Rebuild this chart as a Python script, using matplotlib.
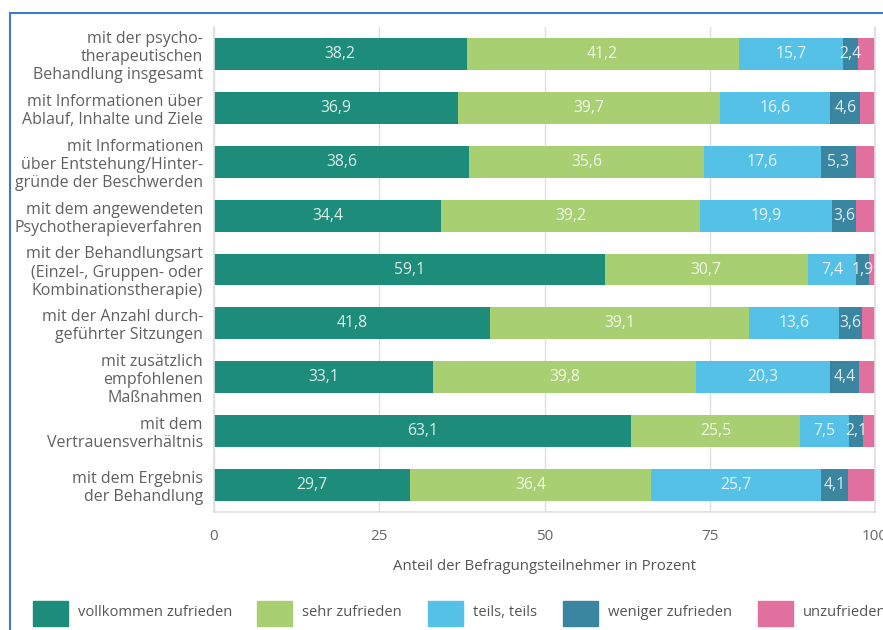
import matplotlib
matplotlib.use("Agg")
import matplotlib.pyplot as plt
from matplotlib.patches import Rectangle
import numpy as np

plt.rcParams['font.family'] = ['Open Sans', 'DejaVu Sans']

categories = [
    "mit der psycho-\ntherapeutischen\nBehandlung insgesamt",
    "mit Informationen über\nAblauf, Inhalte und Ziele",
    "mit Informationen\nüber Entstehung/Hinter-\ngründe der Beschwerden",
    "mit dem angewendeten\nPsychotherapieverfahren",
    "mit der Behandlungsart\n(Einzel-, Gruppen- oder\nKombinationstherapie)",
    "mit der Anzahl durch-\ngeführter Sitzungen",
    "mit zusätzlich\nempfohlenen\nMaßnahmen",
    "mit dem\nVertrauensverhältnis",
    "mit dem Ergebnis\nder Behandlung",
]
series_names = ["vollkommen zufrieden", "sehr zufrieden", "teils, teils",
                "weniger zufrieden", "unzufrieden"]
vollkommen = [38.2, 36.9, 38.6, 34.4, 59.1, 41.8, 33.1, 63.1, 29.7]
sehr = [41.2, 39.7, 35.6, 39.2, 30.7, 39.1, 39.8, 25.5, 36.4]
teils = [15.7, 16.6, 17.6, 19.9, 7.4, 13.6, 20.3, 7.5, 25.7]
weniger = [2.4, 4.6, 5.3, 3.6, 1.9, 3.6, 4.4, 2.1, 4.1]
unzufrieden = [2.5, 2.2, 2.9, 2.9, 0.9, 1.9, 2.4, 1.8, 4.1]
show_label = [True, True, True, True, False]
xticks = [0, 25, 50, 75, 100]

colors = ["#1e8c7b", "#a8d072", "#55c1e7", "#3a86a1", "#e2709f"]

W, H = 883, 630
fig = plt.figure(figsize=(W / 100, H / 100), dpi=100)
fig.patch.set_facecolor("white")

ax = fig.add_axes([214 / W, 1 - 512 / H, (875 - 214) / W, (512 - 27) / H])

data = [vollkommen, sehr, teils, weniger, unzufrieden]
y = np.arange(len(categories))
left = np.zeros(len(categories))
for vals, col, name, lab in zip(data, colors, series_names, show_label):
    vals = np.array(vals)
    bars = ax.barh(y, vals, left=left, height=0.59, color=col, label=name, zorder=2)
    if lab:
        for b, v in zip(bars, vals):
            cx = b.get_x() + b.get_width() / 2
            ax.text(cx, b.get_y() + b.get_height() / 2, f"{v:.1f}".replace(".", ","),
                    ha="center", va="center", color="white", alpha=0.85,
                    fontsize=11.3, zorder=3)
    left = left + vals

ax.set_xlim(0, 100)
ax.set_ylim(len(categories) - 0.5, -0.5)
ax.set_yticks(y)
ax.set_yticklabels(categories, fontsize=11.5, color="#606060", linespacing=1.17)
ax.set_xticks(xticks)
ax.set_xticklabels([str(t) for t in xticks], fontsize=11, color="#666666")
ax.tick_params(axis="both", length=0)
ax.tick_params(axis="y", pad=8)
ax.tick_params(axis="x", pad=12)
ax.xaxis.grid(True, color="#dedede", linewidth=1, zorder=0)
ax.set_axisbelow(True)
ax.spines["top"].set_visible(False)
for s in ["left", "right", "bottom"]:
    ax.spines[s].set_color("#dedede")
    ax.spines[s].set_linewidth(1.2)
ax.set_xlabel("Anteil der Befragungsteilnehmer in Prozent", fontsize=10.8,
              color="#555555", labelpad=11)

# legend (manual layout)
leg_x = [33, 257, 428, 563, 758]
for xpx, col, name in zip(leg_x, colors, series_names):
    fig.add_artist(Rectangle((xpx / W, 1 - 626 / H), 35 / W, 25 / H,
                             transform=fig.transFigure, color=col))
    fig.text((xpx + 45) / W, 1 - 613 / H, name, fontsize=10.6, color="#555555",
             ha="left", va="center")

# blue frame
fig.add_artist(Rectangle((10 / W, -0.1), 1.2, 1 - 13 / H + 0.1,
                         transform=fig.transFigure, fill=False,
                         edgecolor="#3d7cc9", linewidth=1.5))

fig.savefig("out.png", dpi=100)
